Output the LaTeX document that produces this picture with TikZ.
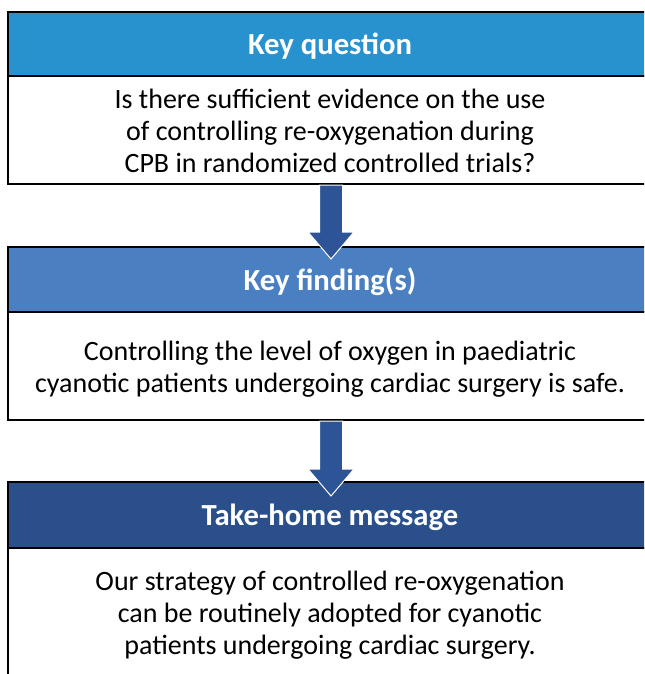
\documentclass[tikz,border=0pt]{standalone}
\usepackage{fontspec}
\setmainfont{Carlito}
\usetikzlibrary{calc}
\definecolor{hA}{RGB}{40,146,206}
\definecolor{hB}{RGB}{74,128,193}
\definecolor{hC}{RGB}{42,79,138}
\definecolor{arr}{RGB}{44,84,150}
\newcommand{\shiftedtext}[1]{\raisebox{-3pt}[\height][\depth]{\begin{tabular}{@{}c@{}}#1\end{tabular}}\hspace*{21pt}}
\begin{document}
\begin{tikzpicture}[x=0.75pt,y=-0.75pt,
  hdr/.style={draw=black,line width=1.5pt,minimum width=504pt,text=white,font=\fontsize{23}{26}\selectfont\bfseries,inner sep=0pt},
  bodybox/.style={draw=black,line width=1.5pt,fill=white,minimum width=504pt,font=\fontsize{21}{24.2}\selectfont,inner sep=0pt},
  bigarrow/.style={fill=arr,draw=white,line width=0.75pt}]
\useasboundingbox (0,0) rectangle (644,674);
\clip (0,0) rectangle (644,674);
\fill[white] (0,0) rectangle (644,674);
% box 1 (boxes run from x=8 to beyond the right edge)
\node[hdr,fill=hA,minimum height=48pt] (h1) at (344,44) {\shiftedtext{Key question}};
\node[bodybox,minimum height=81pt] (b1) at (344,130) {\shiftedtext{Is there sufficient evidence on the use\\of controlling re-oxygenation during\\CPB in randomized controlled trials?}};
% box 2
\node[hdr,fill=hB,minimum height=48.75pt] (h2) at (344,279.5) {\shiftedtext{Key finding(s)}};
\node[bodybox,minimum height=81pt] (b2) at (344,366) {\shiftedtext{Controlling the level of oxygen in paediatric\\cyanotic patients undergoing cardiac surgery is safe.}};
% box 3
\node[hdr,fill=hC,minimum height=49.5pt] (h3) at (344,515) {\shiftedtext{Take-home message}};
\node[bodybox,minimum height=96pt] (b3) at (344,612) {\shiftedtext{Our strategy of controlled re-oxygenation\\can be routinely adopted for cyanotic\\patients undergoing cardiac surgery.}};
% arrows
\coordinate (s1) at ($(b1.south)+(-13,0)$);
\coordinate (t1) at ($(h2.north)+(-13,13)$);
\filldraw[bigarrow] ($(s1)+(-11.5,0)$) -- ($(t1)+(-11.5,-27)$) -- ($(t1)+(-23,-27)$) -- (t1) -- ($(t1)+(23,-27)$) -- ($(t1)+(11.5,-27)$) -- ($(s1)+(11.5,0)$) -- cycle;
\coordinate (s2) at ($(b2.south)+(-13,0)$);
\coordinate (t2) at ($(h3.north)+(-13,15)$);
\filldraw[bigarrow] ($(s2)+(-11.5,0)$) -- ($(t2)+(-11.5,-27)$) -- ($(t2)+(-23,-27)$) -- (t2) -- ($(t2)+(23,-27)$) -- ($(t2)+(11.5,-27)$) -- ($(s2)+(11.5,0)$) -- cycle;
\end{tikzpicture}
\end{document}
